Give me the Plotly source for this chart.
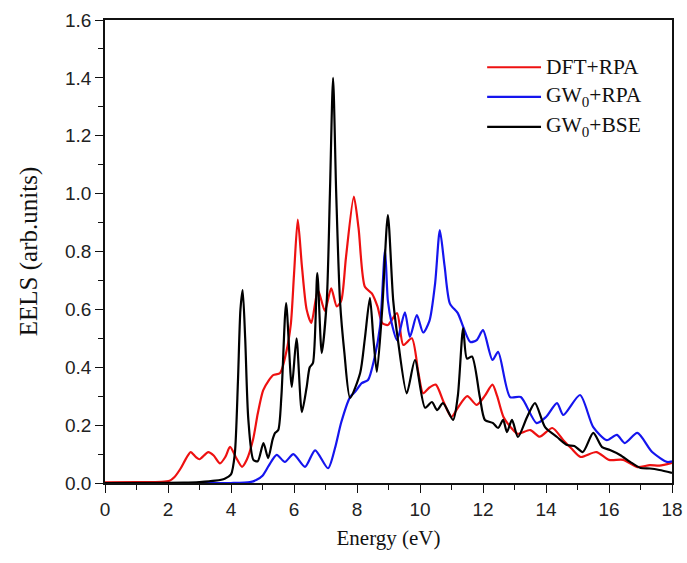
import plotly.graph_objects as go

# ---- data ----
E_red = [0, 1.0, 1.8, 2.05, 2.2, 2.4, 2.55, 2.72, 2.88, 3.0, 3.28, 3.45, 3.65, 3.82, 3.97,
         4.15, 4.35, 4.5, 4.7, 4.85, 5.02, 5.2, 5.34, 5.56, 5.75, 5.9, 6.0, 6.12, 6.25, 6.4,
         6.55, 6.76, 6.98, 7.18, 7.36, 7.5, 7.65, 7.9, 8.05, 8.25, 8.47, 8.65, 8.8, 8.98, 9.27,
         9.47, 9.74, 9.95, 10.1, 10.3, 10.5, 10.75, 11.0, 11.2, 11.5, 11.8, 12.05, 12.3, 12.45, 12.65,
         12.9, 13.1, 13.5, 13.8, 14.2, 14.55, 14.8, 15.1, 15.6, 16.0, 16.45, 16.9, 17.3, 17.6, 18.0]
V_red = [0.002, 0.003, 0.004, 0.008, 0.02, 0.05, 0.08, 0.107, 0.09, 0.082, 0.107, 0.095, 0.068, 0.09, 0.125,
         0.09, 0.056, 0.08, 0.15, 0.24, 0.32, 0.355, 0.373, 0.38, 0.45, 0.55, 0.72, 0.91, 0.75, 0.6,
         0.553, 0.667, 0.595, 0.673, 0.61, 0.63, 0.78, 0.99, 0.88, 0.678, 0.655, 0.61, 0.553, 0.546, 0.587,
         0.477, 0.5, 0.38, 0.31, 0.33, 0.34, 0.28, 0.228, 0.26, 0.30, 0.27, 0.3, 0.34, 0.3, 0.228,
         0.19, 0.17, 0.183, 0.16, 0.19, 0.148, 0.12, 0.09, 0.107, 0.08, 0.08, 0.055, 0.062, 0.06, 0.07]

E_blue = [0, 4.0, 4.6, 4.8, 5.0, 5.2, 5.45, 5.71, 5.98, 6.35, 6.67, 7.08, 7.3, 7.5, 7.78,
          7.94, 8.15, 8.35, 8.55, 8.73, 8.89, 8.98, 9.1, 9.27, 9.52, 9.68, 9.9, 10.1, 10.3, 10.48,
          10.63, 10.78, 10.95, 11.2, 11.37, 11.6, 11.8, 12.0, 12.3, 12.48, 12.86, 13.2, 13.7, 14.0, 14.35,
          14.55, 15.08, 15.5, 15.93, 16.25, 16.5, 16.9, 17.37, 17.84, 18.0]
V_blue = [0, 0, 0.003, 0.01, 0.025, 0.06, 0.097, 0.073, 0.1, 0.056, 0.113, 0.051, 0.12, 0.21, 0.297,
          0.315, 0.345, 0.356, 0.43, 0.54, 0.805, 0.63, 0.553, 0.494, 0.59, 0.505, 0.58, 0.52, 0.56, 0.69,
          0.874, 0.75, 0.62, 0.587, 0.54, 0.487, 0.494, 0.528, 0.425, 0.453, 0.297, 0.297, 0.207, 0.228, 0.276,
          0.235, 0.304, 0.193, 0.148, 0.166, 0.138, 0.173, 0.107, 0.073, 0.075]

E_black = [0, 2.5, 3.0, 3.5, 3.8, 4.0, 4.12, 4.22, 4.3, 4.37, 4.45, 4.55, 4.71, 4.85, 5.03,
           5.18, 5.32, 5.4, 5.5, 5.6, 5.75, 5.93, 6.08, 6.25, 6.4, 6.5, 6.6, 6.74, 6.88, 7.04,
           7.14, 7.24, 7.34, 7.46, 7.6, 7.78, 8.1, 8.25, 8.41, 8.52, 8.63, 8.8, 8.98, 9.15, 9.3,
           9.58, 9.84, 10.16, 10.38, 10.54, 10.73, 11.05, 11.2, 11.37, 11.49, 11.65, 11.9, 12.06, 12.32, 12.48,
           12.64, 12.76, 12.92, 13.11, 13.4, 13.65, 13.97, 14.35, 14.67, 14.9, 15.17, 15.5, 15.78, 16.03, 16.35,
           16.67, 17.0, 17.3, 17.6, 18.0]
V_black = [0, 0.001, 0.003, 0.008, 0.015, 0.03, 0.1, 0.35, 0.6, 0.667, 0.5, 0.22, 0.08, 0.075, 0.138,
           0.086, 0.15, 0.173, 0.183, 0.3, 0.622, 0.332, 0.5, 0.245, 0.33, 0.40, 0.414, 0.725, 0.449, 0.63,
           1.0, 1.40, 1.0, 0.63, 0.45, 0.294, 0.38, 0.5, 0.64, 0.5, 0.384, 0.6, 0.926, 0.63, 0.494,
           0.31, 0.425, 0.26, 0.28, 0.252, 0.276, 0.218, 0.3, 0.535, 0.43, 0.437, 0.297, 0.218, 0.207, 0.19,
           0.218, 0.176, 0.218, 0.159, 0.228, 0.276, 0.193, 0.159, 0.131, 0.128, 0.107, 0.173, 0.124, 0.114, 0.097,
           0.073, 0.052, 0.05, 0.045, 0.035]

series_names = ["DFT+RPA", "GW<sub>0</sub>+RPA", "GW<sub>0</sub>+BSE"]
series_colors = ["#ee1111", "#1515ee", "#000000"]
series_x = [E_red, E_blue, E_black]
series_y = [V_red, V_blue, V_black]

SERIF = "Liberation Serif, Times New Roman, serif"
SANS = "Liberation Sans, Arial, sans-serif"

fig = go.Figure()
for name, col, xs, ys in zip(series_names, series_colors, series_x, series_y):
    fig.add_trace(go.Scatter(x=xs, y=ys, mode="lines", name=name,
                             line=dict(color=col, width=2.2, shape="spline", smoothing=0.7),
                             showlegend=False))

# custom legend (longer sample lines, as in the reference)
leg_y = [0.898, 0.834, 0.769]
for name, col, ly in zip(series_names, series_colors, leg_y):
    fig.add_shape(type="line", xref="paper", yref="paper", x0=0.674, x1=0.769, y0=ly, y1=ly,
                  line=dict(color=col, width=2.2))
    fig.add_annotation(xref="paper", yref="paper", x=0.775, y=ly, text=name, showarrow=False,
                       xanchor="left", yanchor="middle", font=dict(family=SERIF, size=21.5, color="#111"))

axis_common = dict(showline=True, linecolor="#111", linewidth=1.6, mirror=True,
                   ticks="outside", ticklen=8, tickwidth=1.4, tickcolor="#111",
                   showgrid=False, zeroline=False, automargin=False,
                   tickfont=dict(family=SANS, size=19, color="#222"))

fig.update_xaxes(range=[0, 18], dtick=2, tick0=0,
                 minor=dict(dtick=1, ticks="outside", ticklen=5, tickcolor="#111", tickwidth=1.2),
                 title=dict(text="Energy (eV)", font=dict(family=SERIF, size=21, color="#111"), standoff=12),
                 **axis_common)
fig.update_yaxes(range=[0, 1.6], dtick=0.2, tick0=0, tickformat=".1f",
                 minor=dict(dtick=0.1, ticks="outside", ticklen=5, tickcolor="#111", tickwidth=1.2),
                 title=dict(text="EELS (arb.units)", font=dict(family=SERIF, size=25, color="#111"), standoff=20),
                 **axis_common)

fig.update_layout(width=687, height=563, margin=dict(l=105, r=15, t=20, b=80),
                  paper_bgcolor="white", plot_bgcolor="white")

fig.write_html("out.html")
